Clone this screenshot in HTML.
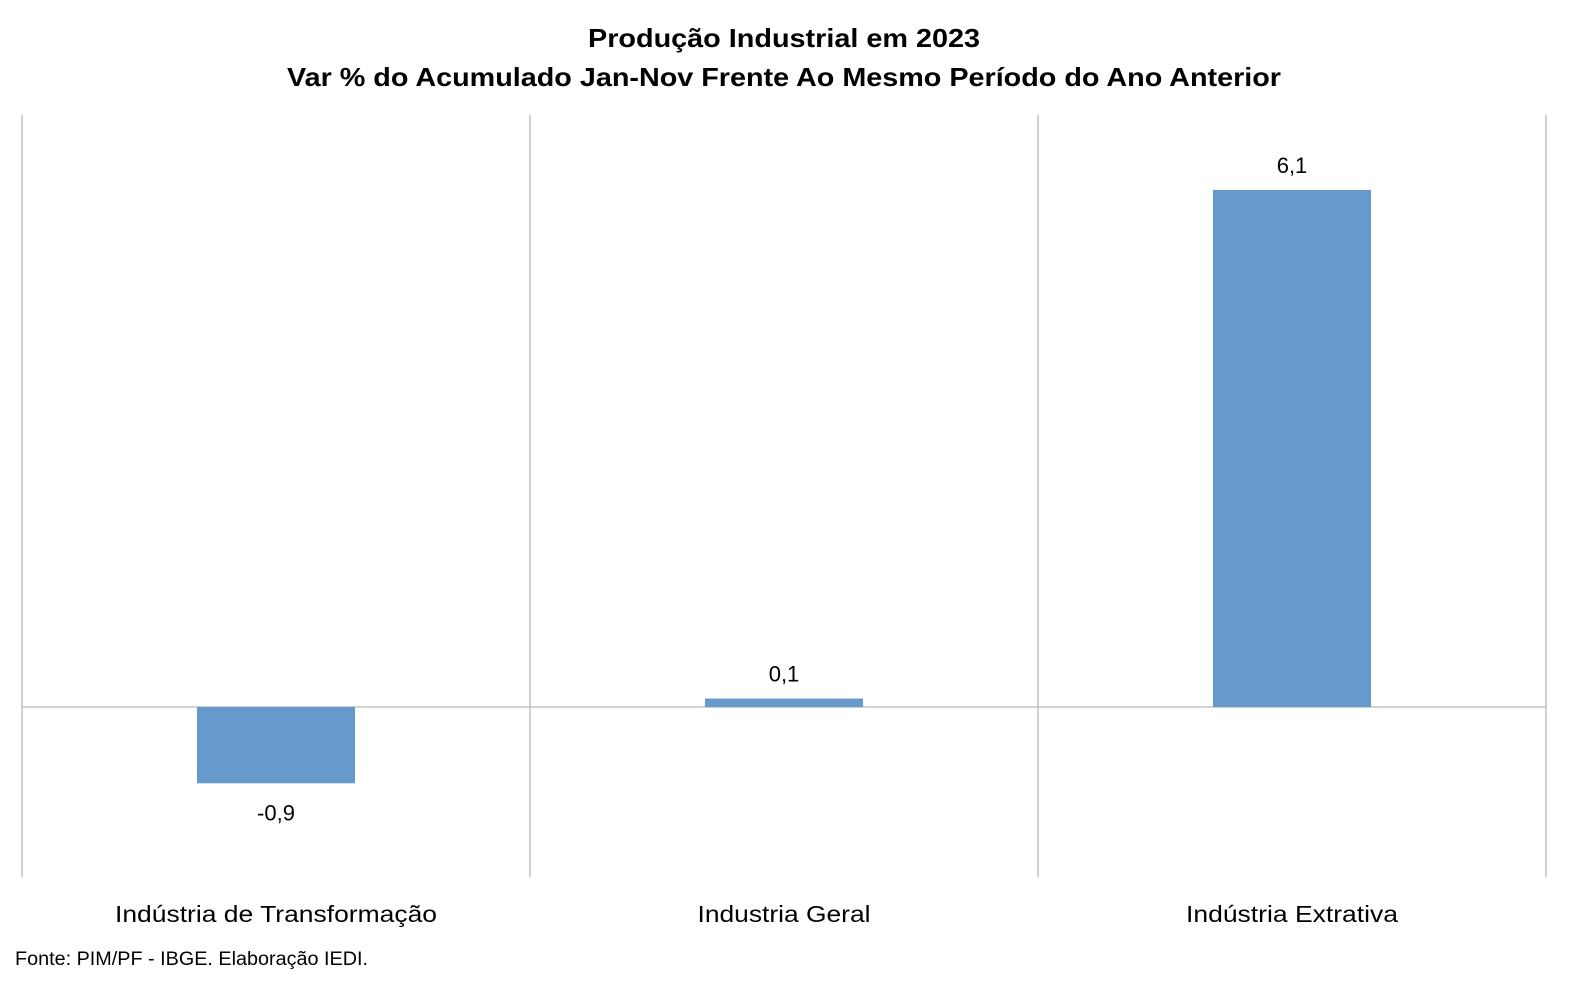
<!DOCTYPE html>
<html><head><meta charset="utf-8"><style>
html,body{margin:0;padding:0;background:#fff;}
svg{display:block;font-family:"Liberation Sans",sans-serif;}
</style></head><body>
<svg id="chart" width="1582" height="987" viewBox="0 0 1582 987">
<text x="784" y="47" text-anchor="middle" font-size="26" font-weight="bold" textLength="392" lengthAdjust="spacingAndGlyphs">Produção Industrial em 2023</text>
<text x="784" y="86" text-anchor="middle" font-size="26" font-weight="bold" textLength="994" lengthAdjust="spacingAndGlyphs">Var % do Acumulado Jan-Nov Frente Ao Mesmo Período do Ano Anterior</text>
<g id="grid"></g>
<g id="bars"></g>
<g id="labels"></g>
<text x="15" y="965" font-size="19" textLength="353" lengthAdjust="spacingAndGlyphs">Fonte: PIM/PF - IBGE. Elaboração IEDI.</text>
</svg>
<script>
const categories = ["Indústria de Transformação", "Industria Geral", "Indústria Extrativa"];
const values = [-0.9, 0.1, 6.1];
const valueLabels = ["-0,9", "0,1", "6,1"];
const catWidths = [322, 173, 212];

const NS = "http://www.w3.org/2000/svg";
const plotLeft = 22, plotRight = 1546, plotTop = 115, plotBottom = 877, zeroY = 707;
const yMax = 6.1, yTopPx = 190;
const scale = (zeroY - yTopPx) / yMax;
function yPos(v){ return zeroY - v * scale; }
const band = (plotRight - plotLeft) / categories.length;
function xc(i){ return plotLeft + band * (i + 0.5); }
const barW = 158;

function mk(tag, attrs){ const e = document.createElementNS(NS, tag); for (const k in attrs) e.setAttribute(k, attrs[k]); return e; }
const grid = document.getElementById("grid"), bars = document.getElementById("bars"), labels = document.getElementById("labels");

for (let i = 0; i <= categories.length; i++) {
  const gx = plotLeft + band * i;
  const l = mk("line", {x1: gx, x2: gx, y1: plotTop, y2: plotBottom, stroke: "#a6a6a6", "stroke-width": 1});
  
  
  grid.appendChild(l);
}
const zl = mk("line", {x1: plotLeft, x2: plotRight, y1: zeroY, y2: zeroY, stroke: "#a6a6a6", "stroke-width": 1});



categories.forEach((c, i) => {
  const v = values[i];
  const y0 = Math.min(yPos(v), zeroY), h = Math.abs(yPos(v) - zeroY);
  const r = mk("rect", {x: xc(i) - barW/2, y: y0, width: barW, height: h, fill: "#669acc"});
  
  
  bars.appendChild(r);
  const ly = v >= 0 ? yPos(v) - 17 : yPos(v) + 37;
  const t = mk("text", {x: xc(i), y: ly, "text-anchor": "middle", "font-size": 22});
  t.textContent = valueLabels[i];
  
  
  labels.appendChild(t);
  const ct = mk("text", {x: xc(i), y: 922, "text-anchor": "middle", "font-size": 23, textLength: catWidths[i], lengthAdjust: "spacingAndGlyphs"});
  ct.textContent = c;
  
  
  labels.appendChild(ct);
});
grid.appendChild(zl);
</script>
</body></html>
